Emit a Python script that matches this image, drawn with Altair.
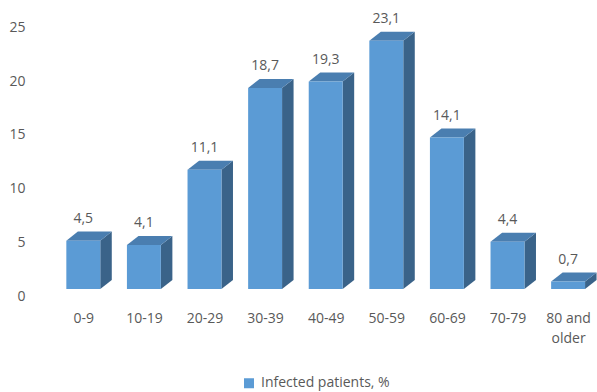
import json
import altair as alt
import pandas as pd

# ---- data ----
categories = ["0-9", "10-19", "20-29", "30-39", "40-49", "50-59", "60-69", "70-79", "80 and\nolder"]
values = [4.5, 4.1, 11.1, 18.7, 19.3, 23.1, 14.1, 4.4, 0.7]
y_ticks = [0, 5, 10, 15, 20, 25]
series_name = "Infected patients, %"

# ---- 3D box geometry (style constants) ----
HW = 0.28   # half width of the front face (category units)
DX = 0.19   # horizontal depth (category units)
DY = 0.84   # vertical depth (value units)

FRONT = "#5B9BD5"
TOP = "#4A7EB0"
SIDE = "#3A6389"
TXT = "#595959"
FONT = "Open Sans"

idx = list(range(len(values)))

front = pd.DataFrame({"i": idx, "v": values})
front["series"] = series_name
front["x1"] = front["i"] - HW
front["x2"] = front["i"] + HW
front["ytop"] = front["v"] + DY
front["label"] = [f"{v:.1f}".replace(".", ",") for v in values]

side_rows, top_rows = [], []
for i, v in zip(idx, values):
    side_rows.append({"cat": i, "x": i + HW, "lo": 0.0, "hi": v})
    side_rows.append({"cat": i, "x": i + HW + DX, "lo": DY, "hi": v + DY})
    top_rows.append({"cat": i, "y": v, "xa": i - HW, "xb": i + HW})
    top_rows.append({"cat": i, "y": v + DY, "xa": i - HW + DX, "xb": i + HW + DX})
side = pd.DataFrame(side_rows)
topf = pd.DataFrame(top_rows)

x_scale = alt.Scale(domain=[-0.5, 8.477], nice=False, zero=False)
y_scale = alt.Scale(domain=[0, 25], nice=False)

label_expr = "split(" + json.dumps(categories) + "[datum.value], '\\n')"

x_axis = alt.Axis(
    title=None, values=idx, labelExpr=label_expr, ticks=False, domain=False, grid=False,
    labelFont=FONT, labelFontSize=14, labelColor=TXT, labelPadding=22, labelLineHeight=20,
    labelFlush=False, labelOverlap=False, labelBound=False,
)
y_axis = alt.Axis(
    title=None, values=y_ticks, ticks=False, domain=False, grid=False,
    labelFont=FONT, labelFontSize=14, labelColor=TXT, labelPadding=28, labelOffset=7,
)

side_layer = alt.Chart(side).mark_area(color=SIDE, orient="vertical").encode(
    x=alt.X("x:Q", scale=x_scale, axis=x_axis),
    y=alt.Y("lo:Q", scale=y_scale, axis=y_axis),
    y2="hi:Q",
    detail="cat:N",
)

top_layer = alt.Chart(topf).mark_area(color=TOP, orient="horizontal").encode(
    y=alt.Y("y:Q", scale=y_scale, axis=y_axis),
    x=alt.X("xa:Q", scale=x_scale, axis=x_axis),
    x2="xb:Q",
    detail="cat:N",
)

front_layer = alt.Chart(front).mark_rect().encode(
    x=alt.X("x1:Q", scale=x_scale, axis=x_axis),
    x2="x2:Q",
    y=alt.Y("v:Q", scale=y_scale, axis=y_axis),
    y2=alt.datum(0),
    color=alt.Color(
        "series:N",
        scale=alt.Scale(range=[FRONT]),
        legend=alt.Legend(
            title=None, orient="none", legendX=189, legendY=356, symbolType="square",
            symbolSize=100, symbolStrokeWidth=0, labelFont=FONT, labelFontSize=14,
            labelColor=TXT, padding=0, labelOffset=5,
        ),
    ),
)

text_layer = alt.Chart(front).mark_text(
    font=FONT, fontSize=14, color=TXT, baseline="middle", dy=-12.5
).encode(
    x=alt.X("i:Q", scale=x_scale, axis=x_axis),
    y=alt.Y("ytop:Q", scale=y_scale, axis=y_axis),
    text="label:N",
)

chart = alt.layer(side_layer, top_layer, front_layer, text_layer).properties(
    width=544,
    height=268.75,
    autosize=alt.AutoSizeParams(type="none"),
    padding={"left": 53, "top": 20.25, "right": 0, "bottom": 103},
    background="white",
).configure_view(strokeWidth=0)

chart.save("out.html", embed_options={"renderer": "svg", "actions": False})
